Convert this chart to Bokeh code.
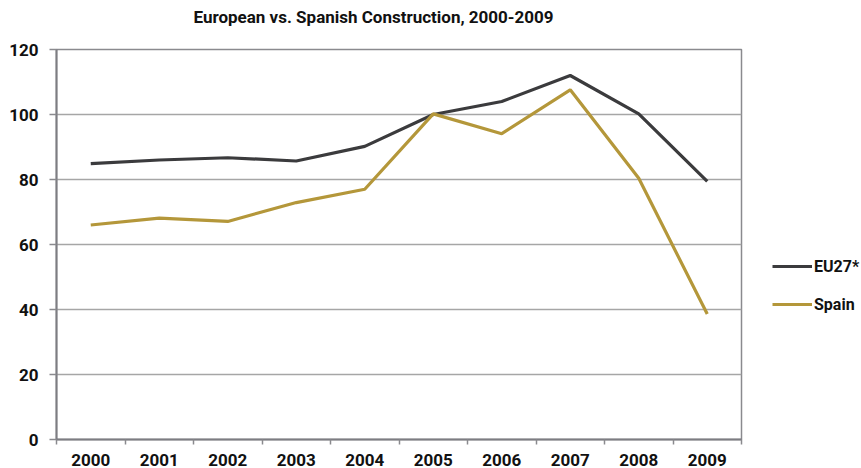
from bokeh.plotting import figure
from bokeh.models import FixedTicker, Legend, LegendItem, Title
from bokeh.embed import file_html
from bokeh.resources import INLINE

years = ["2000", "2001", "2002", "2003", "2004", "2005", "2006", "2007", "2008", "2009"]
eu27 = [84.9, 86.0, 86.7, 85.7, 90.2, 100.0, 104.0, 112.0, 100.2, 79.4]
spain = [66.0, 68.1, 67.1, 72.9, 77.0, 100.2, 94.1, 107.6, 80.4, 38.6]
y_ticks = [0, 20, 40, 60, 80, 100, 120]

FONT = "Roboto"
xs = list(range(len(years)))

p = figure(frame_width=685, frame_height=390, output_backend="svg", toolbar_location=None,
           x_range=(-0.5, len(years) - 0.5), y_range=(0, 120),
           min_border_left=56, min_border_right=118, min_border_top=49, min_border_bottom=21)
p.title = None
spacer = Title(text=" ", text_font=FONT, text_font_size="11px", standoff=8)
p.add_layout(spacer, "above")
t = Title(text="European vs. Spanish Construction, 2000-2009", align="left", offset=137,
          standoff=0, text_font=FONT, text_font_size="17px",
          text_font_style="bold", text_color="#111111")
p.add_layout(t, "above")

r1 = p.line(xs, eu27, line_color="#3b3b3d", line_width=3.2)
r2 = p.line(xs, spain, line_color="#b4973a", line_width=3.2)

p.outline_line_color = "#8a8a8e"
p.outline_line_width = 1.5
p.background_fill_color = "white"
p.border_fill_color = "white"

p.xgrid.grid_line_color = None
p.ygrid.ticker = FixedTicker(ticks=y_ticks)
p.ygrid.grid_line_color = "#a6a6a6"
p.ygrid.grid_line_width = 1.5

xa = p.xaxis[0]
xa.ticker = FixedTicker(ticks=xs, minor_ticks=[i - 0.5 for i in range(len(years) + 1)])
xa.major_label_overrides = {i: y for i, y in enumerate(years)}
xa.major_tick_line_color = None
xa.major_tick_out = 0
xa.major_tick_in = 0
xa.minor_tick_out = 5
xa.minor_tick_in = 0
xa.minor_tick_line_color = "#8a8a8e"
xa.minor_tick_line_width = 1.5
xa.axis_line_color = "#7d7d82"
xa.axis_line_width = 2
xa.major_label_text_font = FONT
xa.major_label_text_font_size = "17px"
xa.major_label_text_font_style = "bold"
xa.major_label_text_color = "#111111"
xa.major_label_standoff = 9

ya = p.yaxis[0]
ya.ticker = FixedTicker(ticks=y_ticks)
ya.minor_tick_line_color = None
ya.major_tick_out = 7
ya.major_tick_in = 0
ya.major_tick_line_color = "#8a8a8e"
ya.major_tick_line_width = 1.5
ya.axis_line_color = "#7d7d82"
ya.axis_line_width = 2
ya.major_label_text_font = FONT
ya.major_label_text_font_size = "17px"
ya.major_label_text_font_style = "bold"
ya.major_label_text_color = "#111111"
ya.major_label_standoff = 11

legend = Legend(items=[LegendItem(label="EU27*", renderers=[r1]),
                       LegendItem(label="Spain", renderers=[r2])],
                location=(31, 125), glyph_width=40, glyph_height=20, spacing=18,
                label_standoff=2, label_text_font=FONT, label_text_font_size="16px",
                label_text_font_style="bold", label_text_color="#111111",
                border_line_color=None, background_fill_alpha=0, padding=0, margin=0)
p.add_layout(legend, "right")

open("out.html", "w").write(file_html(p, INLINE))
